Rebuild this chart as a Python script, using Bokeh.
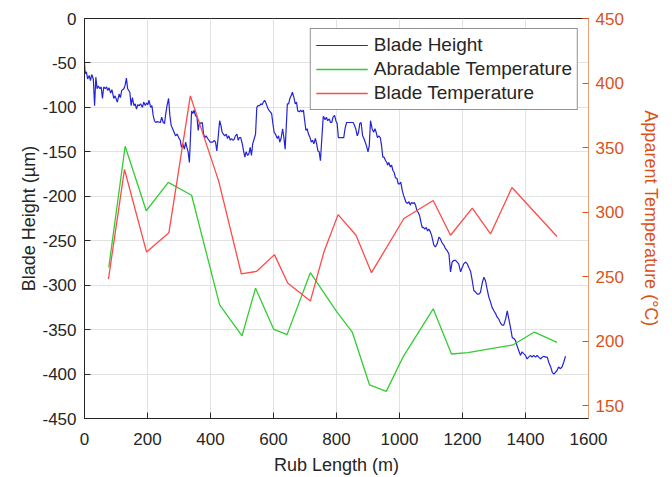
from bokeh.plotting import figure
from bokeh.models import Range1d, LinearAxis, FixedTicker, Legend, LegendItem
from bokeh.embed import file_html
from bokeh.resources import INLINE

# ---------------- data ----------------
blade_x = [0, 2, 6, 10, 15, 19, 23, 28, 32, 36, 40, 44, 49, 53, 57, 61, 66, 70, 74, 78,
           83, 87, 93, 97, 104, 110, 114, 118, 125, 129, 133, 137, 144, 148, 152, 157, 161, 165, 169, 174,
           178, 184, 188, 193, 197, 201, 205, 210, 214, 218, 222, 226, 231, 241, 245, 250, 254, 258, 262, 267,
           271, 275,
           289, 294, 299, 304, 308, 312, 317, 321, 325, 329, 333, 340, 344, 348, 352, 357, 361, 365, 369, 374,
           378, 382, 386, 391, 395, 399, 407, 412, 416, 420, 424, 429, 433, 437, 441, 445, 450, 454, 458, 463,
           467, 471, 475, 479, 484, 488, 492, 496, 501, 505, 509, 513, 518, 522, 526, 530, 534, 539, 543, 547,
           551, 556, 560, 564, 568, 572, 577, 581, 585, 590, 594, 598, 602, 606,
           612, 616, 620, 624, 629, 633, 637, 641, 644, 648, 652, 656, 660, 665, 669, 673, 677, 682, 686, 690,
           695, 699, 703, 707, 711, 716, 720, 724, 728, 733, 737, 741, 745, 749, 753, 758, 760, 764, 768, 772,
           777, 781, 785, 789, 794, 798, 802, 806, 823, 827, 832, 853, 857, 861, 866, 870, 874, 878, 883, 887,
           891, 895, 900, 904, 908,
           913, 918, 922, 926, 930, 934, 939, 943, 947, 951, 956, 960, 962, 966, 971, 975, 979, 983, 987, 992,
           996, 1000, 1004, 1009, 1013, 1017, 1021, 1026, 1030, 1034, 1038, 1043, 1047, 1051, 1055, 1059, 1064,
           1068, 1072, 1076, 1080, 1085, 1089, 1093, 1098, 1102,
           1109, 1114, 1120, 1125, 1130, 1136, 1141, 1146, 1151, 1157, 1162, 1167, 1173, 1178, 1183, 1188, 1194,
           1199, 1204, 1210, 1215, 1220, 1226, 1231, 1236, 1242, 1247, 1252, 1257, 1263, 1268, 1273, 1279, 1284,
           1289, 1294, 1300, 1305, 1310, 1315, 1321, 1326, 1331, 1337, 1342, 1347, 1353, 1358, 1363, 1368, 1373,
           1379, 1384, 1389, 1394, 1400, 1405, 1410, 1416, 1421, 1426, 1432, 1437, 1442, 1448, 1453, 1458, 1464,
           1469, 1474, 1480, 1485, 1490, 1495, 1500, 1505, 1511, 1516, 1521, 1527]
blade_h = [-49, -62, -60, -68, -64, -70, -63, -68, -98, -66, -79, -76, -79, -77, -90, -77, -79, -77, -81, -78,
           -84, -80, -90, -87, -94, -85, -89, -81, -79, -75, -67, -79, -83, -98, -89, -98, -96, -102, -97, -98,
           -96, -100, -94, -98, -95, -97, -92, -100, -98, -109, -115, -117, -116, -117, -111, -117, -118, -107, -98, -90,
           -109, -120,
           -132, -130, -134, -137, -145, -141, -147, -139, -145, -150, -162, -104, -107, -103, -109, -111, -126, -117, -118, -117,
           -130, -134, -132, -135, -137, -139, -139, -137, -139, -149, -135, -115, -120, -128, -130, -132, -130, -135, -132, -137,
           -135, -137, -136, -132, -130, -137, -134, -134, -141, -149, -156, -150, -154, -152, -145, -154, -141, -135, -130, -100,
           -98, -98, -96, -97, -94, -92, -96, -100, -103, -105, -107, -118, -128, -130,
           -135, -132, -139, -135, -124, -134, -147, -118, -96, -96, -90, -87, -83, -89, -96, -94, -104, -105, -103, -105,
           -103, -115, -126, -124, -130, -134, -139, -137, -141, -135, -141, -149, -150, -160, -137, -110, -111, -114, -111, -115,
           -113, -117, -117, -111, -109, -115, -118, -134, -134, -124, -117, -117, -120, -124, -132, -128, -118, -117, -132, -135,
           -139, -143, -150, -143, -115,
           -124, -128, -124, -128, -134, -132, -134, -143, -156, -156, -160, -162, -165, -162, -167, -165, -171, -173, -179, -180,
           -186, -186, -184, -194, -199, -203, -207, -208, -206, -210, -207, -208, -207, -210, -216, -218, -222,
           -229, -235, -235, -237, -235, -239, -237, -240, -244,
           -255, -257, -253, -246, -248, -253, -255, -259, -261, -265, -285, -274, -272, -272, -274, -276, -285,
           -280, -276, -274, -276, -280, -285, -295, -306, -308, -310, -310, -308, -297, -291, -295, -306, -314,
           -319, -325, -329, -332, -336, -338, -343, -345, -345, -338, -329, -338, -349, -359, -360, -362, -368,
           -374, -379, -375, -377, -379, -383, -381, -379, -381, -379, -381, -379, -381, -383, -381, -380, -381,
           -381, -387, -392, -398, -400, -398, -396, -392, -394, -392, -387, -380]

abr_x = [77, 129, 196, 266, 340, 429, 500, 543, 601, 643, 717, 800, 850, 905, 958, 1012, 1107, 1165, 1217, 1360, 1428, 1500]
abr_t = [257, 351, 301, 323, 313, 228, 204, 241, 209, 205, 253, 223, 207, 166, 161, 188, 225, 190, 191, 197, 207, 199]

bt_x = [76, 127, 197, 268, 336, 426, 498, 546, 603, 645, 717, 760, 805, 862, 911, 1014, 1107, 1162, 1231, 1289, 1357, 1500]
bt_t = [248, 333, 269, 284, 390, 324, 252, 254, 267, 245, 231, 269, 298, 282, 253, 295, 309, 282, 303, 283, 319, 281]

x_ticks = [0, 200, 400, 600, 800, 1000, 1200, 1400, 1600]
h_ticks = [-450, -400, -350, -300, -250, -200, -150, -100, -50, 0]
t_ticks = [150, 200, 250, 300, 350, 400, 450]

assert len(blade_x) == len(blade_h)

# ---------------- figure ----------------
FONT = "Liberation Sans"
DARK = "#262626"
ORANGE = "#D95319"

p = figure(width=672, height=477, output_backend="svg", toolbar_location=None,
           x_range=Range1d(0, 1600), y_range=Range1d(-450, 0),
           min_border_left=84, min_border_right=84, min_border_top=18, min_border_bottom=59,
           x_axis_label="Rub Length (m)", y_axis_label="Blade Height (µm)")
p.extra_y_ranges = {"temp": Range1d(140, 450)}
p.outline_line_color = DARK
p.outline_line_width = 1
p.background_fill_color = "white"

def style_axis(ax, color, ticks):
    ax.ticker = FixedTicker(ticks=ticks)
    ax.major_label_overrides = {t: str(t) for t in ticks}
    ax.axis_line_color = color
    ax.axis_line_width = 1
    ax.major_tick_line_color = color
    ax.major_tick_in = 6
    ax.major_tick_out = 0
    ax.minor_tick_line_color = None
    ax.major_label_text_font = FONT
    ax.major_label_text_font_size = "17px"
    ax.major_label_text_color = color
    ax.axis_label_text_font = FONT
    ax.axis_label_text_font_size = "18px"
    ax.axis_label_text_font_style = "normal"
    ax.axis_label_text_color = color

style_axis(p.xaxis[0], DARK, x_ticks)
p.xaxis[0].major_label_standoff = 14
p.xaxis[0].axis_label_standoff = 7
style_axis(p.yaxis[0], DARK, h_ticks)
p.yaxis[0].major_label_standoff = 8
p.yaxis[0].axis_label_standoff = 0

right = LinearAxis(y_range_name="temp", axis_label="Apparent Temperature (°C)")
style_axis(right, ORANGE, t_ticks)
right.axis_line_color = "#F0A070"
right.major_label_standoff = 7
right.axis_label_standoff = 14
p.add_layout(right, "right")

p.xgrid.grid_line_color = "#e2e2e2"
p.ygrid.grid_line_color = "#e2e2e2"
p.xgrid.ticker = FixedTicker(ticks=x_ticks)
p.ygrid.ticker = FixedTicker(ticks=h_ticks)

r_blue = p.line(blade_x, blade_h, line_color="#2323D8", line_width=1.2)
r_green = p.line(abr_x, abr_t, y_range_name="temp", line_color="#33CC33", line_width=1.3)
r_red = p.line(bt_x, bt_t, y_range_name="temp", line_color="#FF4A4A", line_width=1.3)

legend = Legend(items=[LegendItem(label="Blade Height", renderers=[r_blue]),
                       LegendItem(label="Abradable Temperature", renderers=[r_green]),
                       LegendItem(label="Blade Temperature", renderers=[r_red])],
                location="top_right")
legend.margin = 10
legend.padding = 5
legend.spacing = 2
legend.label_height = 22
legend.glyph_height = 22
legend.glyph_width = 52
legend.label_standoff = 6
legend.label_text_font = FONT
legend.label_text_font_size = "19px"
legend.label_text_color = DARK
legend.border_line_color = DARK
legend.border_line_width = 1
legend.background_fill_color = "white"
legend.background_fill_alpha = 1
p.add_layout(legend)

open("out.html", "w").write(file_html(p, INLINE))
